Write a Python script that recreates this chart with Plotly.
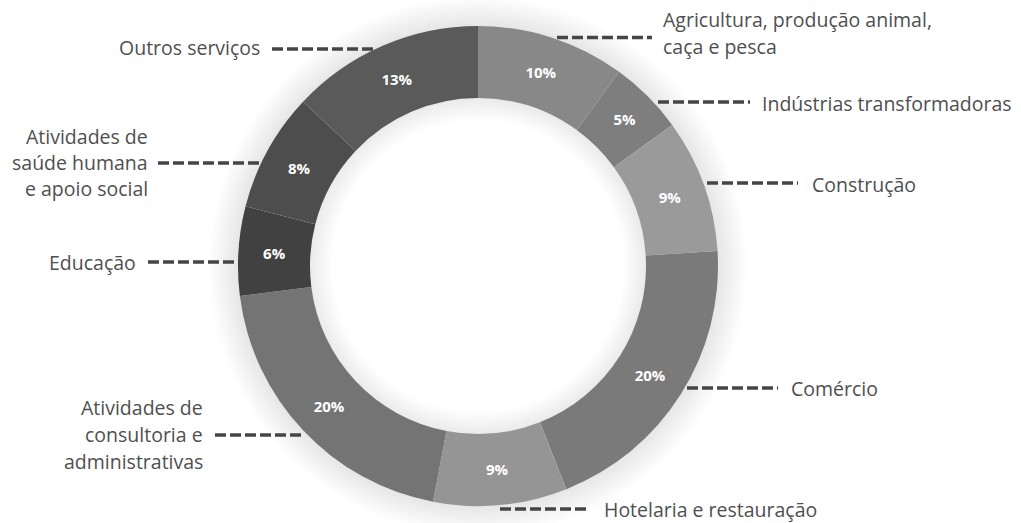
import numpy as np
import plotly.graph_objects as go

# Canvas and donut geometry (pixels)
W, H = 1021, 523
CX, CY, R = 478, 266, 240
HOLE = 0.70

# Data
categories = [
    "Agricultura, produção animal,<br>caça e pesca",
    "Indústrias transformadoras",
    "Construção",
    "Comércio",
    "Hotelaria e restauração",
    "Atividades de<br>consultoria e<br>administrativas",
    "Educação",
    "Atividades de<br>saúde humana<br>e apoio social",
    "Outros serviços",
]
shares = [10, 5, 9, 20, 9, 20, 6, 8, 13]
slice_colors = ["#888888", "#7e7e7e", "#9a9a9a", "#7a7a7a", "#959595",
                "#747474", "#414141", "#4d4d4d", "#5a5a5a"]

# Callout placement: leader line (x0, x1, y) and text (x, side, line centres)
callouts = [
    dict(line=(557, 652, 37.5), x=661, side="left", ys=[20, 47]),
    dict(line=(658, 750, 102), x=760, side="left", ys=[103]),
    dict(line=(707, 798, 183), x=810, side="left", ys=[184]),
    dict(line=(687, 778, 388), x=789, side="left", ys=[388]),
    dict(line=(500, 590, 509), x=602, side="left", ys=[509]),
    dict(line=(215, 305, 435), x=205, side="right", ys=[407, 434, 461]),
    dict(line=(148, 238, 262), x=138, side="right", ys=[262]),
    dict(line=(158, 260, 163), x=150, side="right", ys=[136, 162, 188]),
    dict(line=(272, 377, 49), x=262, side="right", ys=[48]),
]


def px(x):
    return x / W


def py(y):
    return 1 - y / H


def annulus_path(r_in, r_out, n=180):
    t = np.linspace(0, 2 * np.pi, n, endpoint=False)
    outer = [(r_out * np.cos(a), r_out * np.sin(a)) for a in t]
    inner = [(r_in * np.cos(a), r_in * np.sin(a)) for a in t[::-1]]
    seg = lambda pts: "M" + "L".join(f"{x:.2f},{y:.2f}" for x, y in pts) + "Z"
    return seg(outer) + seg(inner)


fig = go.Figure()

fig.add_trace(go.Pie(
    labels=categories,
    values=shares,
    sort=False,
    direction="clockwise",
    rotation=0,
    hole=HOLE,
    marker=dict(colors=slice_colors, line=dict(width=0)),
    texttemplate="%{value}%",
    textposition="inside",
    insidetextorientation="horizontal",
    textfont=dict(family="Open Sans", size=15, color="white", weight=700),
    hoverinfo="skip",
    showlegend=False,
    domain=dict(x=[px(CX - R), px(CX + R)], y=[py(CY + R), py(CY - R)]),
))

shapes = []
# soft glow around and inside the ring
r_in = R * HOLE
for k in range(1, 13):
    shapes.append(dict(
        type="path", layer="below", fillrule="evenodd",
        xsizemode="pixel", ysizemode="pixel",
        xanchor=px(CX), yanchor=py(CY), xref="paper", yref="paper",
        path=annulus_path(R - 2, R + 2.4 * k),
        fillcolor="rgba(0,0,0,0.0075)", line=dict(width=0),
    ))
for k in range(1, 11):
    shapes.append(dict(
        type="path", layer="below", fillrule="evenodd",
        xsizemode="pixel", ysizemode="pixel",
        xanchor=px(CX), yanchor=py(CY), xref="paper", yref="paper",
        path=annulus_path(r_in - 2.2 * k, r_in + 2),
        fillcolor="rgba(0,0,0,0.007)", line=dict(width=0),
    ))

annotations = []
for name, c in zip(categories, callouts):
    x0, x1, y = c["line"]
    shapes.append(dict(
        type="line", xref="paper", yref="paper",
        x0=px(x0), x1=px(x1), y0=py(y), y1=py(y),
        line=dict(color="#454545", width=3.5, dash="11px,4px"),
    ))
    for text, ty in zip(name.split("<br>"), c["ys"]):
        annotations.append(dict(
            text=text, x=px(c["x"]), y=py(ty), xref="paper", yref="paper",
            xanchor=c["side"], yanchor="middle", showarrow=False,
            font=dict(family="Open Sans", size=19.5, color="#4f4f4f", weight=500),
        ))

fig.update_layout(
    width=W, height=H,
    margin=dict(l=0, r=0, t=0, b=0),
    paper_bgcolor="white",
    plot_bgcolor="white",
    shapes=shapes,
    annotations=annotations,
)

fig.write_html("out.html")
